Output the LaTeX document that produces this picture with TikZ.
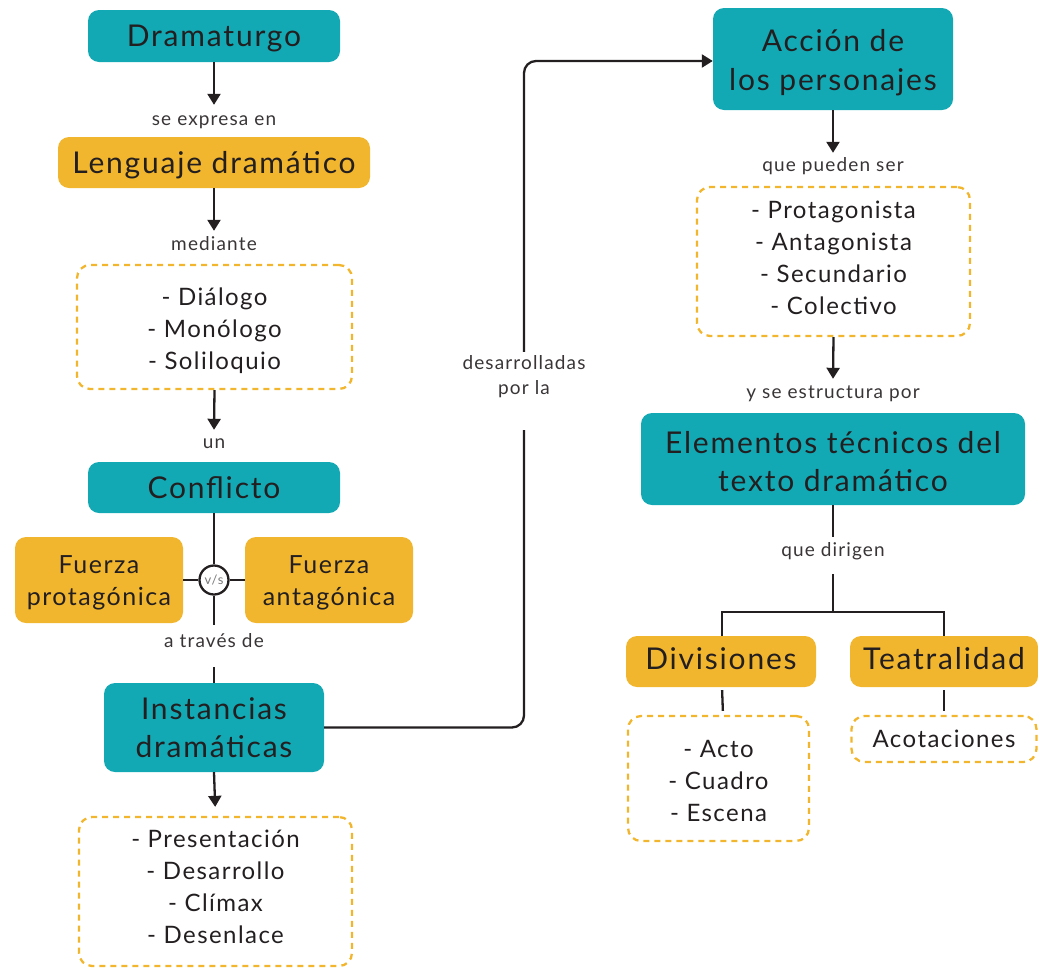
\documentclass[tikz,border=0pt]{standalone}
\usepackage{fontspec}
\setmainfont{Lato}[LetterSpace=6]
\usetikzlibrary{arrows.meta}
\definecolor{cteal}{HTML}{12A9B5}
\definecolor{cgold}{HTML}{F2B62E}
\definecolor{ink}{HTML}{231F20}
\tikzset{
  box/.style={rounded corners=11pt, inner sep=0pt, align=center, text=ink,
    font=\fontsize{30}{38.5}\selectfont},
  oneline/.style={text height=26pt, text depth=5pt},
  tealbox/.style={box, fill=cteal},
  goldbox/.style={box, fill=cgold},
  forcebox/.style={goldbox, font=\fontsize{25}{32}\selectfont, text height=56pt, text depth=5pt},
  listbox/.style={draw=cgold, line width=2.3pt, dash pattern=on 6pt off 5pt,
    rounded corners=13pt, inner sep=0pt, align=center, text=ink,
    font=\fontsize{24}{32}\selectfont, text depth=4pt},
  lab/.style={font=\fontsize{19}{25}\selectfont, text=ink!90, inner sep=2pt,
    text height=16pt, text depth=2pt, align=center},
  link/.style={draw=ink, line width=2.3pt},
  arr/.style={link, -{Triangle[width=13pt,length=11pt]}},
}
\begin{document}
\begin{tikzpicture}[x=1pt,y=-1pt]
\useasboundingbox (0,0) rectangle (1038,967);

% left column
\node[tealbox, oneline, minimum width=252pt, minimum height=52pt] (drama) at (214,36) {Dramaturgo};
\node[lab] (l1) at (214,118) {se expresa en};
\node[goldbox, oneline, minimum width=312pt, minimum height=51pt] (leng) at (214,162.5) {Lenguaje dramático};
\node[lab] (l2) at (214,243) {mediante};
\node[listbox, text height=88pt, minimum width=275pt, minimum height=124pt] (dial) at (214.5,327) {- Diálogo\\- Monólogo\\- Soliloquio};
\node[lab] (l3) at (214,441) {un};
\node[tealbox, oneline, minimum width=252pt, minimum height=51pt] (confl) at (214,487.5) {Conflicto};
\node[forcebox, minimum width=168pt, minimum height=86pt] (prot) at (99,580) {Fuerza\\protagónica};
\node[forcebox, minimum width=168pt, minimum height=86pt] (anta) at (329,580) {Fuerza\\antagónica};
\node[circle, draw=ink, line width=2.3pt, fill=white, minimum size=29pt, inner sep=0pt,
  text=ink!60, font=\fontsize{13}{13}\selectfont] (vs) at (214,580) {v/s};
\node[lab] (l4) at (214,640) {a través de};
\node[tealbox, minimum width=220pt, minimum height=89pt] (inst) at (214,727.5) {Instancias\\dramáticas};
\node[listbox, text height=107pt, minimum width=273pt, minimum height=149pt] (pres) at (215.5,891.5) {- Presentación\\- Desarrollo\\- Clímax\\- Desenlace};

% middle label
\node[lab, text height=39pt, text depth=5pt] (l5) at (524,377) {desarrolladas\\por la};

% right column
\node[tealbox, text height=68pt, text depth=6pt, minimum width=240pt, minimum height=102pt] (accion) at (833,59) {Acción de\\los personajes};
\node[lab] (l6) at (833,164) {que pueden ser};
\node[listbox, text height=109pt, minimum width=273pt, minimum height=149pt] (pers) at (833.5,261.5) {- Protagonista\\- Antagonista\\- Secundario\\- Colectivo};
\node[lab] (l7) at (833,391) {y se estructura por};
\node[tealbox, text height=65pt, text depth=0pt, minimum width=384pt, minimum height=92pt] (elem) at (833,459) {Elementos técnicos del\\texto dramático};
\node[lab] (l8) at (833,549) {que dirigen};
\coordinate (junc) at (833,612);
\node[goldbox, text height=22pt, text depth=6pt, minimum width=190pt, minimum height=51pt] (divi) at (721,661.5) {Divisiones};
\node[goldbox, text height=22pt, text depth=6pt, minimum width=188pt, minimum height=51pt] (teat) at (944,661.5) {Teatralidad};
\node[listbox, text height=89pt, minimum width=181pt, minimum height=125pt] (acto) at (718.5,778.5) {- Acto\\- Cuadro\\- Escena};
\node[listbox, text height=21pt, minimum width=185pt, minimum height=46pt] (acot) at (944,739) {Acotaciones};

% connectors, left column
\draw[arr, shorten >=2pt] (drama.south) -- (l1.north);
\draw[arr, shorten >=1pt] (leng.south) -- (l2.north);
\draw[arr] (dial.south) -- (l3.north);
\draw[link] (confl.south) -- (vs.north);
\draw[link, shorten >=4pt] (vs.south) -- (l4.north);
\draw[link, shorten <=16pt] (l4.south) -- (inst.north);
\draw[link] (prot.east) -- (vs.west);
\draw[link] (vs.east) -- (anta.west);
\draw[arr, shorten >=9pt] (inst.south) -- (pres.north);

% long connector through the middle label
\draw[link, rounded corners=12pt, shorten >=29pt] (inst.east) -| (l5.south);
\draw[arr, rounded corners=12pt, shorten <=1pt] (l5.north) |- ([yshift=-2pt]accion.west);

% connectors, right column
\draw[arr] (accion.south) -- (l6.north);
\draw[arr, shorten >=1pt] (pers.south) -- (l7.north);
\draw[link, shorten >=1pt] (elem.south) -- (l8.north);
\draw[link, shorten <=14pt] (l8.south) -- (junc);
\draw[link] ([xshift=1pt]divi.north) |- (junc) -| (teat.north);
\draw[link, shorten <=3pt, shorten >=4pt] ([xshift=1pt]divi.south) -- ([xshift=4.5pt]acto.north);
\draw[link, shorten <=3pt, shorten >=4pt] (teat.south) -- (acot.north);
\end{tikzpicture}
\end{document}
